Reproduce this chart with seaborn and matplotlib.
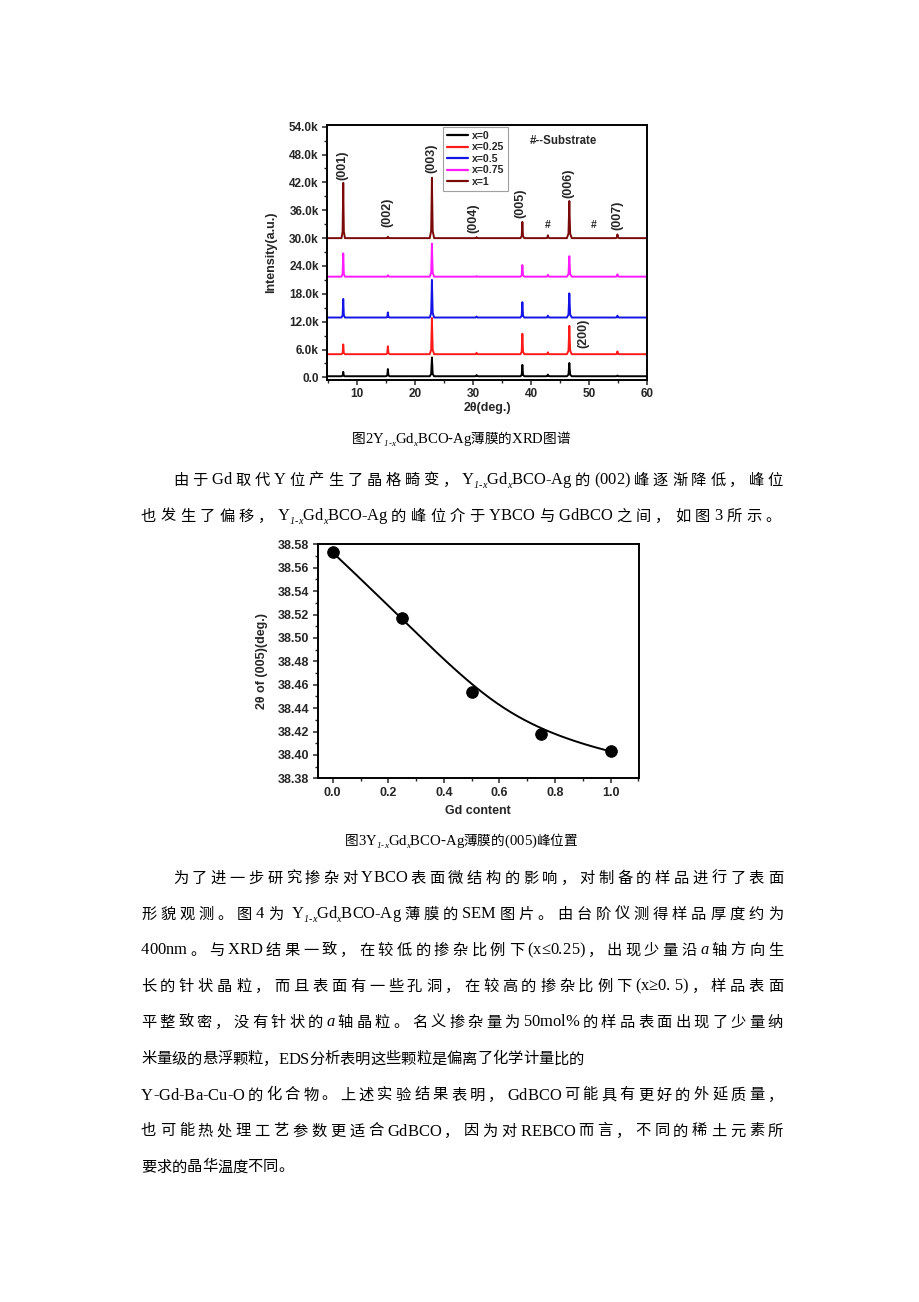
import numpy as np
import pandas as pd
import matplotlib
matplotlib.use("Agg")
import matplotlib.pyplot as plt
import seaborn as sns
from matplotlib.ticker import MultipleLocator, FuncFormatter, FormatStrFormatter
from matplotlib.transforms import IdentityTransform
from matplotlib.font_manager import FontProperties

# ---------------- data ----------------
sample_labels = ["x=0", "x=0.25", "x=0.5", "x=0.75", "x=1"]
sample_colors = ["#000000", "#ff1a1a", "#1414e6", "#ff1aff", "#7a0a0a"]
peak_positions = [7.6, 15.3, 22.9, 30.6, 38.5, 42.9, 46.6, 54.9]
baseline_levels = [250, 5000, 12900, 21700, 30000]
peak_tops_x0 = [1200, 1800, 4300, 500, 2700, 600, 3100, 400]
peak_tops_x025 = [7100, 6700, 12800, 5300, 9400, 5400, 11100, 5600]
peak_tops_x05 = [16900, 14000, 21000, 13100, 16200, 13300, 18100, 13300]
peak_tops_x075 = [26700, 22000, 28800, 21800, 24200, 22100, 26100, 22200]
peak_tops_x1 = [41900, 30300, 43000, 30200, 33500, 30600, 38000, 30800]
peak_names = ["(001)", "(002)", "(003)", "(004)", "(005)", "#", "(006)", "#", "(007)", "(200)"]

gd_content = [0.0, 0.25, 0.5, 0.75, 1.0]
peak005_pos = [38.573, 38.517, 38.454, 38.418, 38.403]

# ---------------- style ----------------
W, H, DPI = 920, 1302, 100
sns.set_style("ticks")
plt.rcParams['font.family'] = ['Liberation Sans', 'Noto Sans CJK SC', 'DejaVu Sans']
plt.rcParams['font.weight'] = 'bold'
plt.rcParams['axes.labelweight'] = 'bold'
SERIF = ['Liberation Serif', 'Noto Sans CJK SC', 'DejaVu Serif']

fig = plt.figure(figsize=(W / DPI, H / DPI), dpi=DPI)
fig.patch.set_facecolor('white')


def px_axes(left, top, right, bottom):
    return fig.add_axes([left / W, 1 - bottom / H, (right - left) / W, (bottom - top) / H])


def style_axes(ax, fs):
    for s in ax.spines.values():
        s.set_linewidth(1.4)
        s.set_color('black')
    ax.tick_params(which='major', direction='out', length=3.5, width=1.1,
                   labelsize=fs, top=False, right=False, pad=2.5)
    ax.tick_params(which='minor', direction='out', length=2, width=1.0,
                   top=False, right=False)
    for lab in ax.get_xticklabels() + ax.get_yticklabels():
        lab.set_fontweight('bold')


# ---------------- chart 1 : XRD ----------------
ax1 = px_axes(327, 125, 647, 380)
tops_all = [peak_tops_x0, peak_tops_x025, peak_tops_x05, peak_tops_x075, peak_tops_x1]
half_w = [0.3, 0.3, 0.38, 0.3, 0.33, 0.33, 0.42, 0.33]
rows = []
for lab, base, tops in zip(sample_labels, baseline_levels, tops_all):
    xs = [5.0]
    ys = [base]
    for p, t, w in zip(peak_positions, tops, half_w):
        h = t - base
        xs += [p - w, p - 0.35 * w, p - 0.1 * w, p, p + 0.1 * w, p + 0.35 * w, p + w]
        ys += [base, base + 0.12 * h, base + 0.7 * h, t, base + 0.7 * h, base + 0.12 * h, base]
    xs.append(60.0)
    ys.append(base)
    for xv, yv in zip(xs, ys):
        rows.append({"two_theta": xv, "intensity": yv, "sample": lab})
df = pd.DataFrame(rows)
sns.lineplot(data=df, x="two_theta", y="intensity", hue="sample",
             hue_order=sample_labels, palette=sample_colors, estimator=None,
             sort=False, linewidth=1.4, ax=ax1)
ax1.set_xlim(4.8, 60)
ax1.set_ylim(-560, 54370)
ax1.xaxis.set_major_locator(MultipleLocator(10))
ax1.xaxis.set_minor_locator(MultipleLocator(5))
ax1.yaxis.set_major_locator(MultipleLocator(6000))
ax1.yaxis.set_minor_locator(MultipleLocator(3000))
ax1.yaxis.set_major_formatter(FuncFormatter(
    lambda v, p: "0.0" if abs(v) < 1 else f"{v/1000:.1f}k"))
style_axes(ax1, 8.5)
ax1.set_xlabel("2θ(deg.)", fontsize=9, fontweight='bold')
ax1.set_ylabel("Intensity(a.u.)", fontsize=9, fontweight='bold')
ax1.yaxis.set_label_coords(-0.157, 0.5)
ax1.xaxis.set_label_coords(0.5, -0.088)
leg = ax1.legend(loc='upper left', bbox_to_anchor=(0.362, 0.992), fontsize=7.6,
                 frameon=True, fancybox=False, edgecolor='#888888',
                 handlelength=2.0, handletextpad=0.4, labelspacing=0.15,
                 borderpad=0.35, borderaxespad=0)
leg.get_frame().set_linewidth(0.8)
for t in leg.get_texts():
    t.set_fontweight('bold')
for l in leg.get_lines():
    l.set_linewidth(1.6)

label_xy = [(7.5, 45700), (15.3, 35600), (22.8, 47200), (30.1, 34200), (38.2, 37500),
            (42.9, 32900), (46.5, 41900), (50.8, 32900), (54.9, 34900), (49.0, 9400)]
for name, (lx, ly) in zip(peak_names, label_xy):
    ax1.text(lx, ly, name, rotation=0 if name == "#" else 90, ha='center', va='center',
             fontsize=9 if name != "#" else 7.5, fontweight='bold')
ax1.text(39.8, 51000, "#--Substrate", ha='left', va='center', fontsize=8.3, fontweight='bold')

# ---------------- chart 2 : (005) peak position ----------------
ax2 = px_axes(317.7, 544.3, 639, 778.3)
df2 = pd.DataFrame({"gd": gd_content, "pos": peak005_pos})


def bspline_curve(px, py, n=200, k=3):
    """Clamped B-spline using the data points as control points (Origin-style B-spline connect)."""
    m = len(px)
    inner = np.linspace(0, 1, m - k + 1)[1:-1]
    knots = np.concatenate([np.zeros(k + 1), inner, np.ones(k + 1)])
    t = np.linspace(0, 1, n)
    t[-1] = 1 - 1e-12

    def N(i, d):
        if d == 0:
            return ((knots[i] <= t) & (t < knots[i + 1])).astype(float)
        a = np.zeros_like(t)
        b = np.zeros_like(t)
        if knots[i + d] > knots[i]:
            a = (t - knots[i]) / (knots[i + d] - knots[i]) * N(i, d - 1)
        if knots[i + d + 1] > knots[i + 1]:
            b = (knots[i + d + 1] - t) / (knots[i + d + 1] - knots[i + 1]) * N(i + 1, d - 1)
        return a + b

    basis = np.array([N(i, k) for i in range(m)])
    return basis.T @ np.asarray(px, float), basis.T @ np.asarray(py, float)


cx, cy = bspline_curve(df2["gd"], df2["pos"])
sns.lineplot(x=cx, y=cy, color='black', linewidth=1.4, sort=False, estimator=None, ax=ax2)
sns.scatterplot(data=df2, x="gd", y="pos", color='black', s=70, edgecolor='black',
                zorder=5, ax=ax2)
ax2.set_xlim(-0.054, 1.102)
ax2.set_ylim(38.38, 38.58)
ax2.xaxis.set_major_locator(MultipleLocator(0.2))
ax2.xaxis.set_minor_locator(MultipleLocator(0.1))
ax2.yaxis.set_major_locator(MultipleLocator(0.02))
ax2.yaxis.set_minor_locator(MultipleLocator(0.01))
ax2.xaxis.set_major_formatter(FormatStrFormatter("%.1f"))
ax2.yaxis.set_major_formatter(FormatStrFormatter("%.2f"))
style_axes(ax2, 9)
ax2.set_xlabel("Gd content", fontsize=9, fontweight='bold')
ax2.set_ylabel("2θ of (005)(deg.)", fontsize=9, fontweight='bold')
ax2.yaxis.set_label_coords(-0.155, 0.5)
ax2.xaxis.set_label_coords(0.5, -0.113)

# ---------------- body text ----------------
renderer = fig.canvas.get_renderer()
_cache = {}
LATIN_SCALE = 1.08


def is_cjk(c):
    return ord(c) >= 0x2E80


def parse(s):
    out = []
    i = 0
    while i < len(s):
        if s.startswith('_{', i):
            j = s.index('}', i)
            out += [(c, 'sub') for c in s[i + 2:j]]
            i = j + 1
        elif s[i] == '*':
            j = s.index('*', i + 1)
            out += [(c, 'it') for c in s[i + 1:j]]
            i = j + 1
        else:
            out.append((s[i], 'n'))
            i += 1
    return out


def fprops(ch, st, fs):
    size = fs if is_cjk(ch) else fs * LATIN_SCALE
    if st == 'sub':
        size = fs * 0.66
    style = 'italic' if st in ('sub', 'it') else 'normal'
    return FontProperties(family=SERIF, size=size, style=style, weight='normal')


def advance(ch, st, fs):
    key = (ch, st, fs)
    if key not in _cache:
        fp = fprops(ch, st, fs)
        w2 = renderer.get_text_width_height_descent("II", fp, ismath=False)[0]
        w3 = renderer.get_text_width_height_descent("I" + ch + "I", fp, ismath=False)[0]
        _cache[key] = w3 - w2
    return _cache[key]


def draw_line(text, yc, fs, x0=None, right=None, center=None):
    items = parse(text)
    widths = [advance(c, st, fs) for c, st in items]
    natural = sum(widths)
    gap_flags = [is_cjk(items[i][0]) or is_cjk(items[i + 1][0]) for i in range(len(items) - 1)]
    gap = 0.0
    if center is not None:
        x0 = center - natural / 2
    elif right is not None and sum(gap_flags) > 0:
        gap = (right - x0 - natural) / sum(gap_flags)
    fs_px = fs * DPI / 72
    base_top = yc + 0.36 * fs_px
    x = x0
    for k, ((c, st), w) in enumerate(zip(items, widths)):
        yb = base_top + (0.22 * fs_px if st == 'sub' else 0)
        if c.strip():
            fp = fprops(c, st, fs)
            fig.text(x, H - yb, c, fontproperties=fp, transform=IdentityTransform(),
                     ha='left', va='baseline', color='black')
        x += w
        if k < len(gap_flags) and gap_flags[k]:
            x += gap


BODY = 11
CAP = 9.8
draw_line("图2Y_{1-x}Gd_{x}BCO-Ag薄膜的XRD图谱", 438, CAP, center=461)
draw_line("由于Gd取代Y位产生了晶格畸变，Y_{1-x}Gd_{x}BCO-Ag的(002)峰逐渐降低，峰位", 479, BODY, x0=173, right=783)
draw_line("也发生了偏移，Y_{1-x}Gd_{x}BCO-Ag的峰位介于YBCO与GdBCO之间，如图3所示。", 515, BODY, x0=141, right=781)
draw_line("图3Y_{1-x}Gd_{x}BCO-Ag薄膜的(005)峰位置", 840, CAP, center=461)

para = [
    ("为了进一步研究掺杂对YBCO表面微结构的影响，对制备的样品进行了表面", 173, 783),
    ("形貌观测。图4为 Y_{1-x}Gd_{x}BCO-Ag薄膜的SEM图片。由台阶仪测得样品厚度约为", 141, 783),
    ("400nm。与XRD结果一致，在较低的掺杂比例下(x≤0.25)，出现少量沿*a*轴方向生", 141, 783),
    ("长的针状晶粒，而且表面有一些孔洞，在较高的掺杂比例下(x≥0. 5)，样品表面", 141, 783),
    ("平整致密，没有针状的*a*轴晶粒。名义掺杂量为50mol%的样品表面出现了少量纳", 141, 783),
    ("米量级的悬浮颗粒，EDS分析表明这些颗粒是偏离了化学计量比的", 141, None),
    ("Y-Gd-Ba-Cu-O的化合物。上述实验结果表明，GdBCO可能具有更好的外延质量，", 141, 783),
    ("也可能热处理工艺参数更适合GdBCO，因为对REBCO而言，不同的稀土元素所", 141, 783),
    ("要求的晶华温度不同。", 141, None),
]
ys = [877, 913, 949, 985, 1021, 1058, 1094, 1130, 1166]
for (txt, x0, right), yc in zip(para, ys):
    draw_line(txt, yc, BODY, x0=x0, right=right)

fig.savefig("out.png", dpi=DPI, facecolor='white')
